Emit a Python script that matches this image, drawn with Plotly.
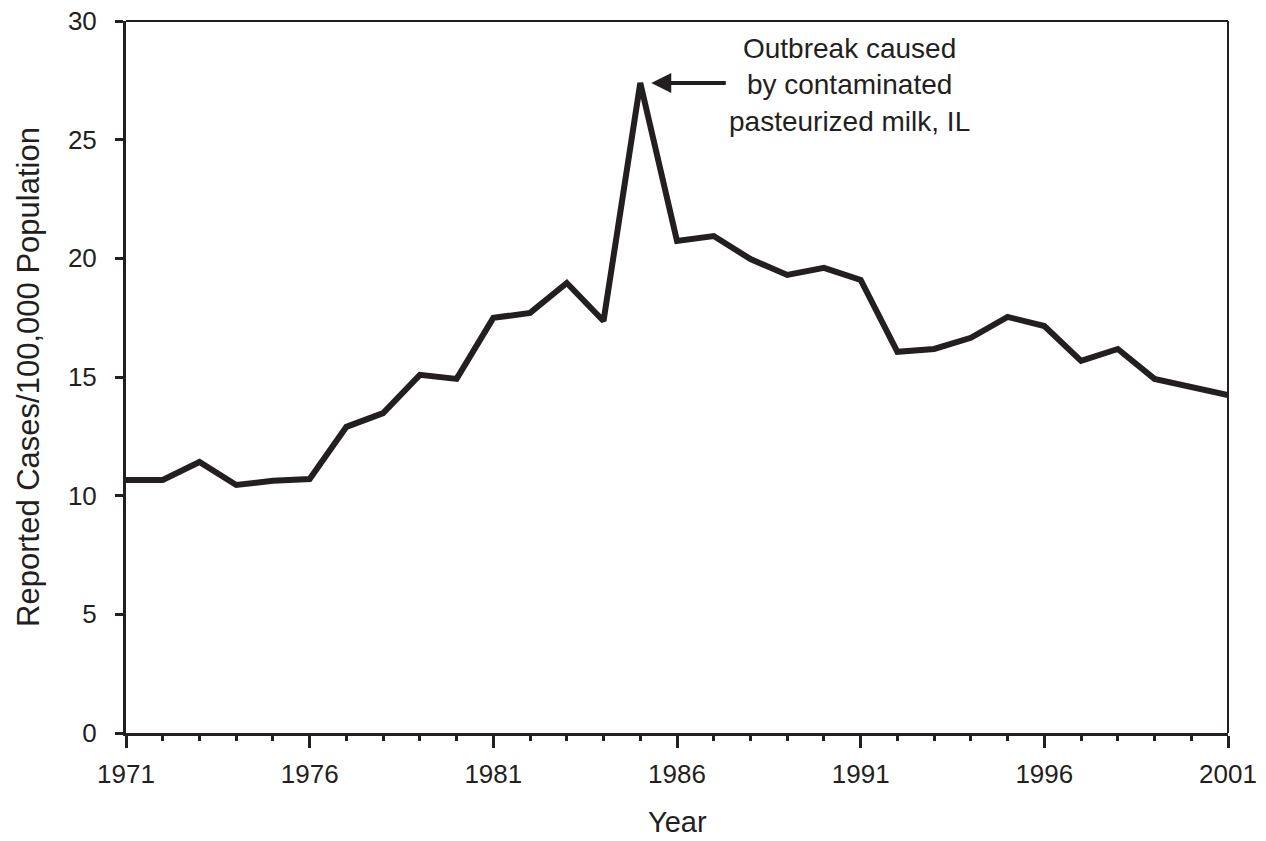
import plotly.graph_objects as go

years = list(range(1971, 2002))
rates = [10.66, 10.66, 11.42, 10.45, 10.63, 10.7, 12.9, 13.48, 15.09, 14.92,
         17.49, 17.7, 18.96, 17.36, 27.39, 20.73, 20.94, 19.97, 19.3, 19.6,
         19.09, 16.06, 16.18, 16.65, 17.53, 17.15, 15.68, 16.18, 14.92, 14.58, 14.24]

x_ticks = [1971, 1976, 1981, 1986, 1991, 1996, 2001]
y_ticks = [0, 5, 10, 15, 20, 25, 30]
note_text = "Outbreak caused<br>by contaminated<br>pasteurized milk, IL"
x_title = "Year"
y_title = "Reported Cases/100,000 Population"

ink = "#231f20"
font_family = "Liberation Sans, Arial, sans-serif"

fig = go.Figure()
fig.add_trace(go.Scatter(x=years, y=rates, mode="lines",
                         line=dict(color=ink, width=6), hoverinfo="skip"))

fig.update_layout(
    width=1266, height=841,
    margin=dict(l=126, r=38, t=21, b=108),
    paper_bgcolor="white", plot_bgcolor="white",
    showlegend=False,
    font=dict(family=font_family, color=ink, size=26),
)
fig.update_xaxes(
    range=[1971, 2001], tickvals=x_ticks, ticktext=[str(v) for v in x_ticks],
    ticks="outside", ticklen=12, tickwidth=3, tickcolor=ink,
    minor=dict(dtick=1, tick0=1971, ticks="outside", ticklen=5, tickwidth=3, tickcolor=ink, showgrid=False),
    showline=True, linewidth=3, linecolor=ink, mirror=False,
    showgrid=False, zeroline=False, automargin=False,
    tickfont=dict(size=26), ticklabelstandoff=4,
)
fig.update_yaxes(
    range=[0, 30], tickvals=y_ticks,
    ticks="outside", ticklen=8, tickwidth=3, tickcolor=ink,
    showline=True, linewidth=3, linecolor=ink,
    showgrid=False, zeroline=False, automargin=False,
    tickfont=dict(size=26), ticklabelstandoff=13,
    title=dict(text=y_title, font=dict(size=31), standoff=20),
)
# top and right frame lines
fig.add_shape(type="line", xref="paper", yref="paper", x0=0, x1=1, y0=1, y1=1,
              line=dict(color=ink, width=2))
fig.add_shape(type="line", xref="paper", yref="paper", x0=1, x1=1, y0=0, y1=1,
              line=dict(color=ink, width=2))

fig.add_annotation(xref="paper", yref="paper", x=0.5, y=0, yshift=-89,
                   xanchor="center", yanchor="middle", text=x_title, showarrow=False,
                   font=dict(size=29, color=ink))

fig.add_annotation(x=1985, y=rates[14], ax=87, ay=0, text="", showarrow=True,
                   arrowhead=2, arrowsize=1, arrowwidth=4, arrowcolor=ink, standoff=11)
fig.add_annotation(x=1990.7, y=rates[14], yshift=-2, text=note_text,
                   showarrow=False, xanchor="center", yanchor="middle", align="center",
                   font=dict(size=28, color=ink))

fig.write_html("out.html", config={"displayModeBar": False},
               post_script="document.body.style.margin='0';")
